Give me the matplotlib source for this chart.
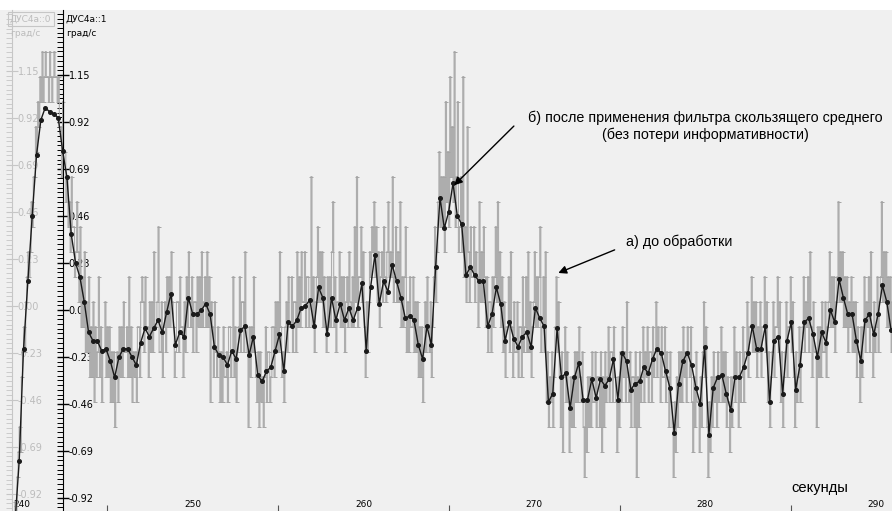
import matplotlib.pyplot as plt
import matplotlib.ticker as mticker
import numpy as np

# filtered signal (moving average), deg/s, one point every dt seconds
t_start = 239.58
dt = 0.254
smooth = [
    -1.05, -0.74, -0.19, 0.14, 0.46, 0.76, 0.93, 0.99, 0.97, 0.96,
    0.94, 0.78, 0.65, 0.37, 0.23, 0.16, 0.04, -0.11, -0.15, -0.15,
    -0.20, -0.19, -0.25, -0.33, -0.23, -0.19, -0.19, -0.23, -0.27, -0.16,
    -0.09, -0.13, -0.09, -0.05, -0.11, -0.01, 0.08, -0.17, -0.11, -0.13,
    0.06, -0.02, -0.02, 0.00, 0.03, -0.02, -0.18, -0.22, -0.23, -0.27,
    -0.20, -0.24, -0.10, -0.08, -0.22, -0.13, -0.32, -0.35, -0.30, -0.28,
    -0.20, -0.12, -0.30, -0.06, -0.08, -0.05, 0.01, 0.02, 0.05, -0.08,
    0.11, 0.06, -0.12, 0.06, -0.05, 0.03, -0.05, 0.01, -0.05, 0.01,
    0.13, -0.20, 0.11, 0.27, 0.03, 0.14, 0.09, 0.22, 0.14, 0.06,
    -0.04, -0.03, -0.05, -0.17, -0.24, -0.08, -0.17, 0.21, 0.55, 0.40,
    0.48, 0.62, 0.46, 0.42, 0.17, 0.21, 0.17, 0.14, 0.14, -0.08,
    -0.02, 0.11, 0.03, -0.15, -0.06, -0.14, -0.18, -0.13, -0.11, -0.18,
    0.01, -0.04, -0.08, -0.45, -0.41, -0.09, -0.33, -0.31, -0.48, -0.33,
    -0.26, -0.44, -0.44, -0.34, -0.43, -0.34, -0.37, -0.34, -0.24, -0.44,
    -0.21, -0.25, -0.39, -0.36, -0.35, -0.28, -0.31, -0.24, -0.19, -0.21,
    -0.30, -0.38, -0.60, -0.36, -0.25, -0.21, -0.27, -0.38, -0.46, -0.18,
    -0.61, -0.38, -0.33, -0.32, -0.41, -0.49, -0.33, -0.33, -0.28, -0.21,
    -0.08, -0.19, -0.19, -0.08, -0.45, -0.15, -0.13, -0.41, -0.15, -0.06,
    -0.39, -0.27, -0.06, -0.04, -0.12, -0.23, -0.11, -0.16, 0.00, -0.06,
    0.15, 0.06, -0.02, -0.02, -0.15, -0.25, -0.05, -0.02, -0.12, -0.02,
    0.12, 0.04, -0.10,
]

# raw sensor output before processing: quantization level index,
# four samples per filtered point
q_zero = 0.0406
q_step = 0.1224
raw_levels = [
    -10, -9, -8, -9, -7, -6, -5, -6, -3, -2, -1, -2, 0, 1, 2, 1, 2, 4, 3, 5,
    5, 7, 6, 8, 7, 9, 8, 10, 8, 9, 10, 9, 9, 8, 10, 9, 8, 9, 10, 9,
    9, 8, 9, 7, 7, 5, 8, 6, 6, 4, 5, 3, 4, 2, 5, 3, 3, 1, 2, 4,
    2, 0, 3, -1, 1, -1, 2, -2, 0, -2, 1, -3, -1, -3, 0, -4, -1, -3, -2, 1,
    -3, -1, -4, -2, -2, 0, -3, -1, -3, -1, -4, -2, -4, -2, -5, -3, -2, -4, -1, -3,
    -1, -3, 0, -2, -2, -1, -3, 1, -3, -1, -4, -2, -3, -2, -4, -1, -1, -3, 0, 1,
    0, -2, 1, -1, -1, -3, 0, -2, 0, -2, 2, -1, -1, 0, 3, -2, -2, 0, -3, -1,
    0, -2, 1, -1, 1, -1, 2, 0, -1, -3, -2, 0, 0, -2, 1, -1, -1, -3, 0, -2,
    1, -1, 2, 0, -1, 1, -2, 0, 0, -2, 1, -1, 1, -1, 2, -1, 0, 1, -1, 2,
    -1, 1, -4, 0, -1, -3, 0, -2, -3, -1, -2, -4, -2, -4, -1, -3, -3, -2, -4, -1,
    -1, -3, -2, 1, -3, -1, -4, -2, -1, 1, -2, 0, 0, -2, 2, -1, -2, -5, -1, -3,
    -1, -2, 1, -2, -3, -4, -2, -5, -2, -4, -3, -5, -3, -1, -4, -2, -2, -4, -3, -1,
    -1, -3, 0, -2, 0, -2, 2, -1, -3, -2, -4, -1, 0, -2, 1, -1, -1, 1, -2, 0,
    0, -2, 2, -1, 1, -1, 2, 0, 0, 2, -1, 1, 1, -1, 0, 5, -1, 1, -2, 0,
    1, 3, 0, 2, 0, 2, -1, 1, -1, -2, 1, -1, 1, -1, 2, 4, -1, 1, -2, 0,
    0, 2, -1, 1, -1, 1, -2, 0, 1, -1, 2, 0, -1, 1, -1, 3, 0, 5, -1, 1,
    1, 3, 0, 2, -1, -3, 0, -2, 0, 2, 1, 3, 2, 4, 1, 3, 0, 2, -1, 1,
    2, 0, 3, 1, 0, 2, 4, 1, 2, 1, 5, 0, 1, 3, 0, 2, 0, 4, -1, 1,
    -1, 1, 3, -2, 0, -2, 1, -1, -1, 1, -2, 0, -2, 0, -3, -1, -3, -1, -4, -2,
    0, -2, 1, -1, -2, 0, -3, -1, 1, 3, 0, 2, 4, 6, 3, 5, 3, 5, 2, 8,
    4, 6, 3, 9, 5, 7, 4, 10, 3, 5, 8, 2, 3, 5, 2, 9, 1, 3, 0, 7,
    2, 0, 3, 1, 1, 3, 0, 2, 1, -1, 4, 0, 2, 0, 3, 1, -1, 1, -2, 0,
    0, -2, 1, -1, 1, 3, 0, 4, 0, 2, -1, 1, -2, 0, -3, -1, -1, 1, -2, 2,
    -1, -3, 0, -2, -2, 0, -3, -1, -1, -3, 1, -2, -1, 1, -2, 2, -2, 0, -3, -1,
    0, 2, -1, 1, -1, 1, 3, -2, -1, 1, -2, 2, -4, -2, -5, -3, -4, -2, -5, -3,
    -1, 1, -2, 0, -3, -5, -2, -6, -3, -1, -4, -2, -4, -6, -3, -5, -3, -5, -2, -4,
    -2, -4, -1, -3, -4, -2, -5, -7, -4, -6, -3, -5, -3, -5, -2, -4, -4, -2, -5, -3,
    -3, -5, -2, -6, -3, -5, -2, -4, -3, -1, -4, -2, -2, -4, -1, -3, -4, -6, -3, -5,
    -2, -4, -1, -3, -2, -4, 0, -3, -4, -2, -5, -3, -3, -5, -2, -7, -3, -5, -2, -4,
    -3, -1, -4, -2, -3, -1, -4, -2, -2, -4, -1, -3, -2, 0, -3, -1, -2, -4, -1, -3,
    -3, -1, -4, -2, -3, -5, -2, -4, -5, -7, -4, -6, -3, -5, -2, -4, -2, -4, -1, -3,
    -2, -4, -1, -2, -3, -1, -4, -6, -3, -5, -2, -4, -4, -6, -3, -5, -2, 0, -3, -1,
    -5, -7, -4, -6, -3, -5, -2, -4, -3, -5, -2, -4, -3, -1, -4, -2, -4, -2, -5, -3,
    -4, -6, -3, -5, -3, -1, -4, -2, -3, -5, -2, -4, -3, -1, -4, -2, -2, 0, -3, -1,
    -1, 1, -2, 0, -2, 0, -3, -1, -2, 0, -3, -1, -1, 1, -2, 0, -4, -2, -5, -3,
    -2, 0, -3, -1, -1, 1, -2, 0, -4, -2, -5, -3, -2, 0, -3, -1, -1, 1, -2, 0,
    -3, -5, -2, -4, -3, -1, -4, -2, -1, 1, -2, 0, -1, 1, -2, 2, -1, -3, 0, -2,
    -2, -5, -1, -3, -1, -3, 0, -2, -2, 0, -3, -1, 0, 2, -1, 1, -1, 1, -2, 0,
    1, 4, 0, 2, 0, 2, -1, 1, -1, 1, -2, 0, -1, 1, -2, 0, -2, 0, -3, -1,
    -2, -4, -1, -3, -1, 1, -2, 0, -1, 1, -2, 2, -1, -3, 0, -2, -1, 1, -2, 0,
    1, 4, 0, 2, 0, 2, -1, 1, -1, 1, -2, 0,
]

y_ticks = [-0.92, -0.69, -0.46, -0.23, 0.00, 0.23, 0.46, 0.69, 0.92, 1.15]
x_ticks = [240, 250, 260, 270, 280, 290]

t_smooth = t_start + dt * np.arange(len(smooth))
t_raw = t_start - 3 * dt / 8 + dt / 4 * np.arange(len(raw_levels))
raw = q_zero + q_step * np.array(raw_levels)

W, H = 892, 511
xlim = (238.71, 290.94)
ylim = (-0.984, 1.468)

fig = plt.figure(figsize=(W / 100, H / 100), dpi=100, facecolor="white")
rect = [0, 0, 1, 501 / H]

# faded axis of channel 0 (background)
ax0 = fig.add_axes(rect)
ax0.set_facecolor("#f0f0f0")
ax0.set_xlim(xlim)
ax0.set_ylim(ylim[0] - 0.02, ylim[1] - 0.02)
for s in ["left", "top", "bottom"]:
    ax0.spines[s].set_visible(False)
ax0.spines["right"].set_position(("axes", 12 / W))
ax0.spines["right"].set_color("#c6c6c6")
ax0.yaxis.tick_right()
ax0.set_yticks(y_ticks)
ax0.yaxis.set_major_formatter(mticker.FormatStrFormatter("%.2f"))
ax0.yaxis.set_minor_locator(mticker.MultipleLocator(0.023))
ax0.tick_params(axis="y", which="major", direction="inout", length=8, width=0.8,
                color="#c6c6c6", labelcolor="#bcbcbc", labelsize=7, pad=0)
ax0.tick_params(axis="y", which="minor", direction="in", length=4, width=0.6,
                color="#c6c6c6")
ax0.set_xticks([])

# main axes with data
ax = fig.add_axes(rect)
ax.set_facecolor("none")
ax.set_xlim(xlim)
ax.set_ylim(ylim)

gray = "#adadad"
ax.step(t_raw, raw, where="mid", color=gray, lw=0.8, zorder=2)
ax.plot(t_raw, raw, ls="none", marker="_", ms=3, mew=0.7, color="#a4a4a4",
        zorder=2)
ax.plot(t_smooth, smooth, color="#1a1a1a", lw=1.0, marker="o", ms=2.6,
        zorder=3)

for s in ["left", "top", "bottom"]:
    ax.spines[s].set_visible(False)
ax.spines["right"].set_position(("axes", 63 / W))
ax.spines["right"].set_color("black")
ax.yaxis.tick_right()
ax.set_yticks(y_ticks)
ax.yaxis.set_major_formatter(mticker.FormatStrFormatter("%.2f"))
ax.yaxis.set_minor_locator(mticker.MultipleLocator(0.023))
ax.tick_params(axis="y", which="major", direction="inout", length=8, width=1,
               labelsize=7, pad=0)
ax.tick_params(axis="y", which="minor", direction="in", length=4, width=0.7)

ax.set_xticks(x_ticks)
ax.xaxis.set_minor_locator(mticker.FixedLocator([245, 255, 265, 275, 285]))
ax.tick_params(axis="x", which="major", direction="in", length=0,
               labelsize=6.5, pad=-8)
ax.tick_params(axis="x", which="minor", direction="in", length=4, width=0.8,
               color="#555555")

# channel headers
fig.text(10 / W, 1 - 19 / H, "ДУС4а::0", fontsize=6.5, color="#bcbcbc",
         va="center", ha="left",
         bbox=dict(facecolor="none", edgecolor="#c6c6c6", lw=0.8,
                   boxstyle="square,pad=0.25"))
fig.text(10 / W, 1 - 34 / H, "град/с", fontsize=6.5, color="#bcbcbc",
         va="center", ha="left")
fig.text(66 / W, 1 - 19 / H, "ДУС4а::1", fontsize=6.5, color="black",
         va="center", ha="left")
fig.text(66 / W, 1 - 34 / H, "град/с", fontsize=6.5, color="black",
         va="center", ha="left")

font = "Liberation Sans"
ax.text(280.0, 0.90,
        "б) после применения фильтра скользящего среднего\n"
        "(без потери информативности)",
        family=font, fontsize=10.3, ha="center", va="center",
        multialignment="center", linespacing=1.25)
ax.annotate("", xy=(265.3, 0.61), xytext=(268.8, 0.90),
            arrowprops=dict(arrowstyle="-|>", color="black", lw=1,
                            mutation_scale=12, shrinkA=0, shrinkB=0))
ax.text(278.5, 0.333, "а) до обработки", family=font, fontsize=10.3,
        ha="center", va="center")
ax.annotate("", xy=(271.4, 0.181), xytext=(274.7, 0.294),
            arrowprops=dict(arrowstyle="-|>", color="black", lw=1,
                            mutation_scale=12, shrinkA=0, shrinkB=0))
ax.text(286.7, -0.871, "секунды", family=font, fontsize=10.6,
        ha="center", va="center")

fig.savefig("out.png", dpi=100, facecolor="white")
